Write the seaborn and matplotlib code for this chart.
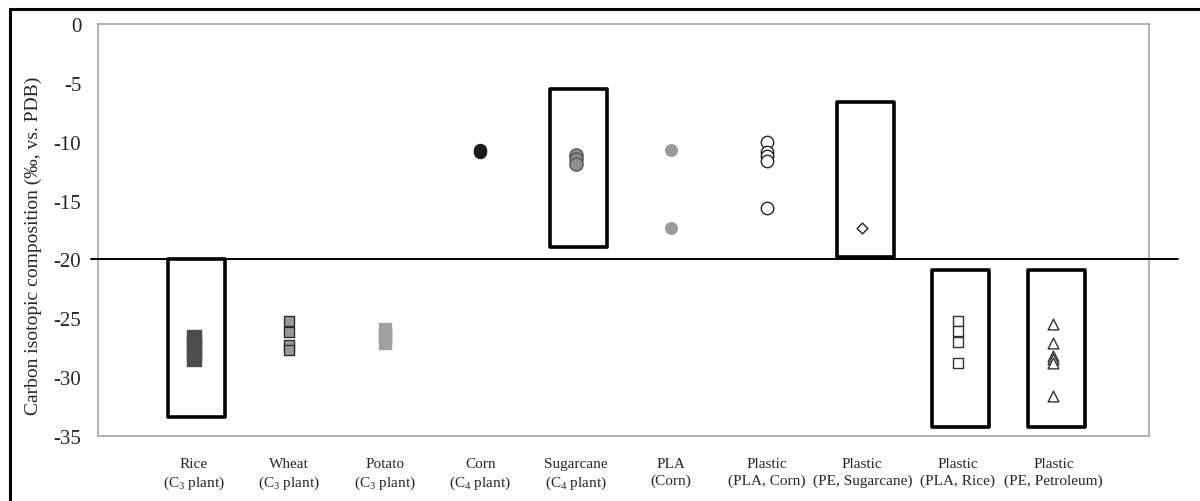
import matplotlib.pyplot as plt
import matplotlib.patches as mpatches
from matplotlib.lines import Line2D
import pandas as pd
import seaborn as sns

# categories (x axis)
categories = ['Rice\n(C$_3$ plant)', 'Wheat\n(C$_3$ plant)', 'Potato\n(C$_3$ plant)',
              'Corn\n(C$_4$ plant)', 'Sugarcane\n(C$_4$ plant)', 'PLA\n(Corn)',
              'Plastic\n(PLA, Corn)', 'Plastic\n(PE, Sugarcane)', 'Plastic\n(PLA, Rice)',
              'Plastic\n(PE, Petroleum)']

# carbon isotope values
rice = [-26.6, -27.0, -27.4, -28.0, -28.5]
wheat = [-25.2, -26.2, -27.3, -27.7]
potato = [-25.9, -26.3, -26.7, -27.1]
corn = [-10.7, -10.9]
sugarcane = [-11.1, -11.5, -11.9]
pla = [-10.7, -17.3]
plastic_pla_corn = [-10.0, -10.9, -11.2, -11.6, -15.6]
plastic_pe_sugarcane = [-17.3]
plastic_pla_rice = [-25.2, -26.1, -27.0, -28.8]
plastic_pe_petroleum = [-25.5, -27.1, -28.2, -28.5, -28.8, -31.6]

series = [rice, wheat, potato, corn, sugarcane, pla, plastic_pla_corn,
          plastic_pe_sugarcane, plastic_pla_rice, plastic_pe_petroleum]

# highlighted boxes: (category index, bottom, top)
boxes = [(0, -33.4, -20.0), (4, -18.9, -5.5), (7, -19.8, -6.6),
         (8, -34.2, -20.9), (9, -34.2, -20.9)]

# marker style per category: marker, size, face, edge
styles = [('s', 95, '#4d4d4d', '#4d4d4d'),
          ('s', 55, '#9a9a9a', '#2b2b2b'),
          ('s', 70, '#a0a0a0', '#a0a0a0'),
          ('o', 75, '#1c1c1c', '#1c1c1c'),
          ('o', 90, '#8e8e8e', '#555555'),
          ('o', 70, '#9a9a9a', '#9a9a9a'),
          ('o', 80, 'white', '#222222'),
          ('D', 30, 'white', '#222222'),
          ('s', 60, 'white', '#333333'),
          ('^', 60, 'white', '#333333')]

rows = []
for i, vals in enumerate(series):
    for v in vals:
        rows.append({'pos': i + 1, 'value': v, 'group': i})
df = pd.DataFrame(rows)

sns.set_style('white')
plt.rcParams['font.family'] = ['Liberation Serif', 'DejaVu Serif']
plt.rcParams['mathtext.fontset'] = 'custom'
plt.rcParams['mathtext.rm'] = 'Liberation Serif'
plt.rcParams['mathtext.it'] = 'Liberation Serif:italic'

fig = plt.figure(figsize=(12, 5.02), dpi=100)
ax = fig.add_axes([0.0817, 0.1295, 0.8758, 0.8205])

for i in range(len(series)):
    m, s, fc, ec = styles[i]
    sub = df[df['group'] == i]
    sns.scatterplot(data=sub, x='pos', y='value', marker=m, s=s, color=fc,
                    edgecolor=ec, linewidth=1.0, ax=ax, legend=False, zorder=3)

for idx, lo, hi in boxes:
    ax.add_patch(mpatches.Rectangle((idx + 1 - 0.27, lo), 0.6, hi - lo, fill=False,
                                    edgecolor='black', linewidth=2.6, zorder=4,
                                    joinstyle='round'))

ax.plot([-0.07, 11.3], [-20, -20], color='black', linewidth=1.4, clip_on=False, zorder=5)

ax.set_xlim(0, 11)
ax.set_ylim(-35, 0)
ax.set_xticks(range(1, len(categories) + 1))
ax.set_xticklabels(categories, fontsize=11, linespacing=1.35)
ax.set_yticks(range(-35, 1, 5))
ax.set_yticklabels([str(t) for t in range(-35, 1, 5)], fontsize=15)
ax.tick_params(axis='x', direction='in', length=7, width=1, color='#a0a0a0', pad=15)
ax.tick_params(axis='y', direction='in', length=3, width=1, color='#a0a0a0', pad=12)
ax.set_xlabel('')
ax.set_ylabel('Carbon isotopic composition (‰, vs. PDB)', fontsize=14)
ax.yaxis.set_label_coords(-0.053, 0.465)
for sp in ax.spines.values():
    sp.set_color('#a6a6a6')
    sp.set_linewidth(1.2)

# outer frame lines (top and left)
fig.add_artist(Line2D([0.0083, 1.0], [0.980, 0.980], color='black', linewidth=2.2))
fig.add_artist(Line2D([0.0083, 0.0083], [0.0, 0.980], color='black', linewidth=2.2))

fig.savefig('out.png', dpi=100)
